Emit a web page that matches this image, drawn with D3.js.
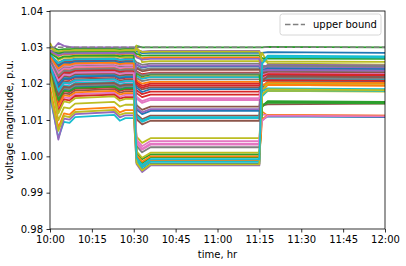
<!DOCTYPE html>
<html>
<head>
<meta charset="utf-8">
<script src="https://cdn.jsdelivr.net/npm/d3@7"></script>
<style>
  body { margin: 0; background: #fff; }
  svg { display: block; font-family: "DejaVu Sans", sans-serif; }
</style>
</head>
<body>
<div id="chart"></div>
<script>
// sample times (hh:mm)
const times = ["10:00", "10:03", "10:05", "10:07", "10:09", "10:23", "10:25", "10:27", "10:30",
               "10:31", "10:33", "10:36", "11:15", "11:16", "11:18", "12:00"];

// bus voltage magnitudes, p.u. (one row per bus)
const busVoltages = [
  [1.0290,1.0285,1.0288,1.0288,1.0290,1.0290,1.0289,1.0289,1.0289,1.0289,1.0284,1.0285,1.0285,1.0285,1.0287,1.0285],
  [1.0287,1.0276,1.0281,1.0281,1.0282,1.0283,1.0281,1.0282,1.0282,1.0276,1.0270,1.0272,1.0272,1.0123,1.0112,1.0110],
  [1.0302,1.0293,1.0295,1.0295,1.0296,1.0296,1.0295,1.0296,1.0296,1.0304,1.0300,1.0300,1.0300,1.0300,1.0301,1.0300],
  [1.0277,1.0252,1.0261,1.0260,1.0264,1.0265,1.0262,1.0263,1.0263,1.0234,1.0226,1.0230,1.0230,1.0216,1.0217,1.0215],
  [1.0285,1.0312,1.0304,1.0301,1.0300,1.0300,1.0300,1.0300,1.0300,1.0294,1.0288,1.0290,1.0290,1.0250,1.0247,1.0245],
  [1.0265,1.0219,1.0234,1.0233,1.0238,1.0240,1.0235,1.0237,1.0237,1.0116,1.0102,1.0112,1.0112,1.0225,1.0237,1.0235],
  [1.0272,1.0238,1.0250,1.0249,1.0253,1.0255,1.0251,1.0252,1.0252,1.0159,1.0147,1.0155,1.0155,1.0115,1.0114,1.0112],
  [1.0270,1.0232,1.0245,1.0244,1.0248,1.0250,1.0246,1.0247,1.0247,1.0029,1.0011,1.0025,1.0025,1.0223,1.0242,1.0240],
  [1.0220,1.0099,1.0135,1.0132,1.0145,1.0150,1.0137,1.0142,1.0142,1.0054,1.0037,1.0050,1.0050,1.0168,1.0180,1.0178],
  [1.0165,1.0051,1.0095,1.0092,1.0108,1.0114,1.0098,1.0105,1.0105,1.0109,1.0095,1.0105,1.0105,1.0261,1.0277,1.0275],
  [1.0245,1.0165,1.0190,1.0188,1.0197,1.0200,1.0191,1.0195,1.0195,0.9984,0.9963,0.9980,0.9980,1.0187,1.0207,1.0205],
  [1.0190,1.0079,1.0118,1.0115,1.0129,1.0135,1.0121,1.0127,1.0127,0.9992,0.9972,0.9988,0.9988,1.0178,1.0197,1.0195],
  [1.0260,1.0205,1.0223,1.0221,1.0228,1.0230,1.0224,1.0226,1.0226,1.0001,0.9981,0.9997,0.9997,1.0136,1.0150,1.0148],
  [1.0255,1.0192,1.0212,1.0210,1.0217,1.0220,1.0213,1.0216,1.0216,1.0174,1.0163,1.0170,1.0170,1.0207,1.0212,1.0210],
  [1.0175,1.0046,1.0104,1.0101,1.0116,1.0122,1.0107,1.0113,1.0113,0.9979,0.9957,0.9975,0.9975,1.0226,1.0250,1.0248],
  [1.0237,1.0145,1.0173,1.0171,1.0181,1.0185,1.0175,1.0179,1.0179,1.0141,1.0128,1.0137,1.0137,1.0218,1.0227,1.0225],
  [1.0250,1.0179,1.0201,1.0199,1.0207,1.0210,1.0202,1.0205,1.0205,1.0039,1.0021,1.0035,1.0035,1.0205,1.0222,1.0220],
  [1.0280,1.0258,1.0266,1.0266,1.0269,1.0270,1.0267,1.0268,1.0268,1.0259,1.0252,1.0255,1.0255,1.0234,1.0234,1.0232],
  [1.0312,1.0265,1.0272,1.0271,1.0274,1.0275,1.0273,1.0273,1.0273,1.0305,1.0259,1.0262,1.0262,1.0285,1.0256,1.0252],
  [1.0257,1.0199,1.0217,1.0216,1.0222,1.0225,1.0219,1.0221,1.0221,0.9989,0.9969,0.9985,0.9985,1.0165,1.0182,1.0180],
  [1.0242,1.0159,1.0184,1.0182,1.0191,1.0195,1.0186,1.0190,1.0190,1.0129,1.0116,1.0125,1.0125,1.0100,1.0110,1.0108],
  [1.0268,1.0225,1.0239,1.0238,1.0243,1.0245,1.0240,1.0242,1.0242,1.0224,1.0215,1.0220,1.0220,1.0197,1.0197,1.0195],
  [1.0289,1.0282,1.0286,1.0286,1.0287,1.0288,1.0287,1.0287,1.0287,1.0282,1.0277,1.0278,1.0278,1.0270,1.0269,1.0268],
  [1.0240,1.0152,1.0179,1.0177,1.0186,1.0190,1.0180,1.0184,1.0184,1.0182,1.0171,1.0178,1.0178,1.0218,1.0224,1.0222],
  [1.0275,1.0245,1.0256,1.0255,1.0258,1.0260,1.0256,1.0258,1.0258,1.0134,1.0121,1.0130,1.0130,1.0240,1.0252,1.0250],
  [1.0252,1.0185,1.0206,1.0204,1.0212,1.0215,1.0208,1.0211,1.0211,1.0194,1.0184,1.0190,1.0190,1.0140,1.0143,1.0145],
  [1.0232,1.0132,1.0162,1.0160,1.0171,1.0175,1.0164,1.0169,1.0169,1.0164,1.0152,1.0160,1.0160,1.0223,1.0230,1.0228],
  [1.0262,1.0212,1.0228,1.0227,1.0233,1.0235,1.0229,1.0232,1.0232,1.0246,1.0238,1.0242,1.0242,1.0238,1.0240,1.0238],
  [1.0178,1.0070,1.0111,1.0108,1.0122,1.0128,1.0114,1.0119,1.0119,0.9982,0.9961,0.9978,0.9978,1.0182,1.0202,1.0200],
  [1.0248,1.0172,1.0195,1.0193,1.0202,1.0205,1.0197,1.0200,1.0200,1.0222,1.0213,1.0218,1.0218,1.0208,1.0214,1.0212],
  [1.0276,1.0248,1.0258,1.0257,1.0261,1.0262,1.0258,1.0260,1.0260,1.0252,1.0244,1.0248,1.0248,1.0220,1.0220,1.0218],
  [1.0235,1.0139,1.0168,1.0166,1.0176,1.0180,1.0170,1.0174,1.0174,1.0209,1.0200,1.0205,1.0205,1.0195,1.0204,1.0202],
  [1.0284,1.0269,1.0275,1.0275,1.0277,1.0278,1.0276,1.0277,1.0277,1.0009,0.9992,1.0005,1.0005,1.0138,1.0152,1.0150],
  [1.0230,1.0125,1.0157,1.0154,1.0166,1.0170,1.0159,1.0163,1.0163,1.0204,1.0194,1.0200,1.0200,1.0207,1.0210,1.0208],
  [1.0290,1.0278,1.0283,1.0283,1.0284,1.0285,1.0283,1.0284,1.0284,1.0272,1.0266,1.0268,1.0268,1.0244,1.0243,1.0242],
  [1.0259,1.0203,1.0221,1.0219,1.0226,1.0228,1.0222,1.0224,1.0224,1.0242,1.0234,1.0238,1.0238,1.0230,1.0232,1.0230],
  [1.0269,1.0229,1.0242,1.0241,1.0246,1.0248,1.0243,1.0245,1.0245,1.0036,1.0018,1.0032,1.0032,1.0211,1.0228,1.0226],
  [1.0244,1.0163,1.0188,1.0186,1.0195,1.0198,1.0189,1.0193,1.0193,1.0216,1.0207,1.0212,1.0212,1.0213,1.0217,1.0215],
  [1.0298,1.0288,1.0291,1.0291,1.0292,1.0292,1.0291,1.0292,1.0292,1.0295,1.0287,1.0288,1.0288,1.0262,1.0261,1.0260],
  [1.0279,1.0256,1.0264,1.0264,1.0267,1.0268,1.0265,1.0266,1.0266,1.0112,1.0098,1.0108,1.0108,1.0179,1.0187,1.0185],
  [1.0256,1.0195,1.0214,1.0213,1.0219,1.0222,1.0215,1.0218,1.0218,1.0189,1.0177,1.0185,1.0185,1.0236,1.0242,1.0240],
  [1.0274,1.0242,1.0253,1.0252,1.0256,1.0258,1.0254,1.0256,1.0256,1.0004,0.9985,1.0000,1.0000,1.0102,1.0114,1.0112],
  [1.0241,1.0155,1.0181,1.0179,1.0188,1.0192,1.0183,1.0187,1.0187,1.0229,1.0220,1.0225,1.0225,1.0141,1.0148,1.0146],
  [1.0264,1.0216,1.0231,1.0230,1.0236,1.0238,1.0233,1.0235,1.0235,1.0199,1.0189,1.0195,1.0195,1.0220,1.0226,1.0224],
  [1.0251,1.0181,1.0203,1.0201,1.0209,1.0212,1.0204,1.0207,1.0207,1.0254,1.0246,1.0250,1.0250,1.0235,1.0238,1.0236],
  [1.0246,1.0168,1.0192,1.0190,1.0199,1.0202,1.0194,1.0197,1.0197,1.0102,1.0088,1.0098,1.0098,1.0208,1.0220,1.0218],
  [1.0261,1.0208,1.0225,1.0223,1.0230,1.0232,1.0226,1.0229,1.0229,1.0046,1.0028,1.0042,1.0042,1.0098,1.0112,1.0110],
  [1.0266,1.0221,1.0236,1.0235,1.0240,1.0242,1.0237,1.0239,1.0239,1.0232,1.0223,1.0228,1.0228,1.0245,1.0250,1.0248],
  [1.0228,1.0118,1.0151,1.0148,1.0160,1.0165,1.0153,1.0158,1.0158,1.0014,0.9996,1.0010,1.0010,1.0171,1.0184,1.0182],
  [1.0250,1.0181,1.0203,1.0201,1.0209,1.0212,1.0204,1.0207,1.0207,0.9996,0.9976,0.9992,0.9992,1.0255,1.0274,1.0272]
];

const upperBound = 1.03;
const xTickLabels = ["10:00", "10:15", "10:30", "10:45", "11:00", "11:15", "11:30", "11:45", "12:00"];
const yTickValues = [0.98, 0.99, 1.00, 1.01, 1.02, 1.03, 1.04];

const colors = ["#1f77b4", "#ff7f0e", "#2ca02c", "#d62728", "#9467bd",
                "#8c564b", "#e377c2", "#7f7f7f", "#bcbd22", "#17becf"];

const W = 406, H = 266;
const margin = { top: 11, right: 21, bottom: 37, left: 50 };
const width = W - margin.left - margin.right;
const height = H - margin.top - margin.bottom;

const parseTime = d3.timeParse("%H:%M");
const tDates = times.map(parseTime);

const svg = d3.select("#chart").append("svg")
    .attr("width", W)
    .attr("height", H);

const g = svg.append("g")
    .attr("transform", `translate(${margin.left},${margin.top})`);

// escalas
const x = d3.scaleTime()
    .domain([parseTime("10:00"), parseTime("12:00")])
    .range([0, width]);

const y = d3.scaleLinear()
    .domain([0.98, 1.04])
    .range([height, 0]);

g.append("clipPath").attr("id", "clip")
    .append("rect").attr("width", width).attr("height", height);

const line = d3.line()
    .x((d, i) => x(tDates[i]))
    .y(d => y(d));

// curvas de tension
const plot = g.append("g").attr("clip-path", "url(#clip)");
plot.selectAll(".bus")
    .data(busVoltages)
    .enter().append("path")
    .attr("class", "bus")
    .attr("d", line)
    .attr("fill", "none")
    .attr("stroke", (d, i) => colors[i % 10])
    .attr("stroke-width", 1.8)
    .attr("stroke-linejoin", "round");

// limite superior
plot.append("line")
    .attr("x1", x(parseTime("10:00")))
    .attr("x2", x(parseTime("12:00")))
    .attr("y1", y(upperBound))
    .attr("y2", y(upperBound))
    .attr("stroke", "#808080")
    .attr("stroke-width", 1.5)
    .attr("stroke-dasharray", "5.5,2.4");

// ejes
const xAxis = g.append("g")
    .attr("transform", `translate(0,${height})`)
    .call(d3.axisBottom(x)
        .tickValues(xTickLabels.map(parseTime))
        .tickFormat(d3.timeFormat("%H:%M"))
        .tickSizeInner(3.5).tickSizeOuter(0).tickPadding(3.5));

const yAxis = g.append("g")
    .call(d3.axisLeft(y)
        .tickValues(yTickValues)
        .tickFormat(d3.format(".2f"))
        .tickSizeInner(3.5).tickSizeOuter(0).tickPadding(3.5));

[xAxis, yAxis].forEach(ax => {
    ax.select(".domain").remove();
    ax.selectAll("line").attr("stroke", "#000").attr("stroke-width", 0.8);
    ax.selectAll("text").style("font-size", "10px").attr("fill", "#000")
        .style("font-family", "'DejaVu Sans', sans-serif");
});

// marco
g.append("rect")
    .attr("width", width)
    .attr("height", height)
    .attr("fill", "none")
    .attr("stroke", "#000")
    .attr("stroke-width", 0.8);

// etiquetas
svg.append("text")
    .attr("x", margin.left + width / 2)
    .attr("y", H - 8)
    .attr("text-anchor", "middle")
    .style("font-size", "10px")
    .text("time, hr");

svg.append("text")
    .attr("transform", `translate(13,${margin.top + height / 2}) rotate(-90)`)
    .attr("text-anchor", "middle")
    .style("font-size", "10px")
    .text("voltage magnitude, p.u.");

// leyenda
const legend = g.append("g")
    .attr("transform", `translate(${width - 105},3)`);

legend.append("rect")
    .attr("x", 0).attr("y", 0)
    .attr("width", 101).attr("height", 21)
    .attr("rx", 2.5)
    .attr("fill", "#fff").attr("fill-opacity", 0.8)
    .attr("stroke", "#cccccc").attr("stroke-width", 0.8);

legend.append("line")
    .attr("x1", 5).attr("x2", 25)
    .attr("y1", 10.5).attr("y2", 10.5)
    .attr("stroke", "#808080")
    .attr("stroke-width", 1.5)
    .attr("stroke-dasharray", "5.5,2.4");

legend.append("text")
    .attr("x", 33).attr("y", 14)
    .style("font-size", "10px")
    .text("upper bound");
</script>
</body>
</html>
